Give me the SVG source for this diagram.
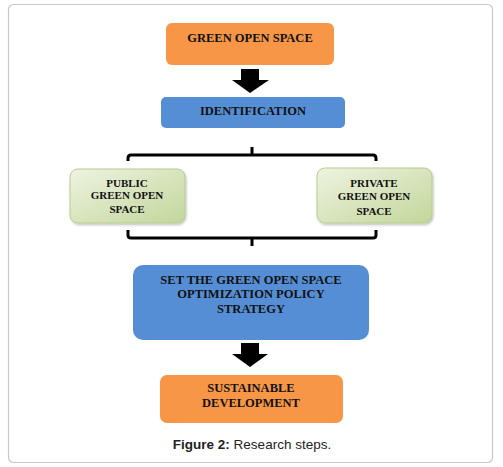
<svg xmlns="http://www.w3.org/2000/svg" width="503" height="467" viewBox="0 0 503 467">
<style>
.t{font-family:"Liberation Serif","Times New Roman",serif;font-weight:bold;font-size:12.5px;fill:#111;text-anchor:middle}
.s{font-size:11px}
.br{fill:none;stroke:#000;stroke-width:3;stroke-linejoin:round;stroke-linecap:butt}
.cap{font-family:"Liberation Sans",Arial,sans-serif;font-size:13.5px;fill:#222;text-anchor:middle}
</style>
<defs>
<linearGradient id="g" x1="0" y1="0" x2="1" y2="1">
<stop offset="0" stop-color="#EEF3E1"/>
<stop offset="1" stop-color="#C3D69B"/>
</linearGradient>
<filter id="sh" x="-10%" y="-10%" width="125%" height="130%">
<feDropShadow dx="1" dy="1.5" stdDeviation="1" flood-color="#000" flood-opacity="0.25"/>
</filter>
</defs>
<rect x="8.5" y="4.5" width="484" height="458" rx="5" fill="#fff" stroke="#c8c8c8" stroke-width="1.2"/>
<g id="connectors">
<polygon points="241,69 259,69 259,80 269,80 250,93 232,80 241,80" fill="#000"/>
<path class="br" d="M252,147 V155 M128,161 V158 Q128,155 131,155 H373 Q376,155 376,158 V161"/>
<path class="br" d="M128,230 V235 Q128,238 131,238 H373 Q376,238 376,235 V230 M252,238 V246"/>
<polygon points="241,343 259,343 259,354 268,354 250,367 232,354 241,354" fill="#000"/>
</g>
<g id="green-open-space">
<rect x="166" y="23" width="168" height="42" rx="6" fill="#F79646"/>
<text class="t" x="250" y="42">GREEN OPEN SPACE</text>
</g>
<g id="identification">
<rect x="161" y="97" width="184" height="31" rx="5" fill="#558ED5"/>
<text class="t" x="253" y="115">IDENTIFICATION</text>
</g>
<g id="public">
<rect x="70" y="169" width="115" height="54" rx="8" fill="url(#g)" stroke="#B9CC8E" stroke-width="1" filter="url(#sh)"/>
<text class="t s" x="127" y="187">PUBLIC</text>
<text class="t s" x="127" y="199">GREEN OPEN</text>
<text class="t s" x="127" y="213">SPACE</text>
</g>
<g id="private">
<rect x="317" y="168" width="115" height="55" rx="8" fill="url(#g)" stroke="#B9CC8E" stroke-width="1" filter="url(#sh)"/>
<text class="t s" x="374" y="187">PRIVATE</text>
<text class="t s" x="374" y="200">GREEN OPEN</text>
<text class="t s" x="374" y="215">SPACE</text>
</g>
<g id="strategy">
<rect x="133" y="265" width="236" height="75" rx="10" fill="#558ED5"/>
<text class="t" x="251" y="284">SET THE GREEN OPEN SPACE</text>
<text class="t" x="251" y="298">OPTIMIZATION POLICY</text>
<text class="t" x="251" y="313">STRATEGY</text>
</g>
<g id="sustainable">
<rect x="160" y="375" width="183" height="48" rx="7" fill="#F79646"/>
<text class="t" x="251" y="392">SUSTAINABLE</text>
<text class="t" x="251" y="407">DEVELOPMENT</text>
</g>
<text class="cap" x="252" y="449"><tspan font-weight="bold">Figure 2:</tspan> Research steps.</text>
</svg>
